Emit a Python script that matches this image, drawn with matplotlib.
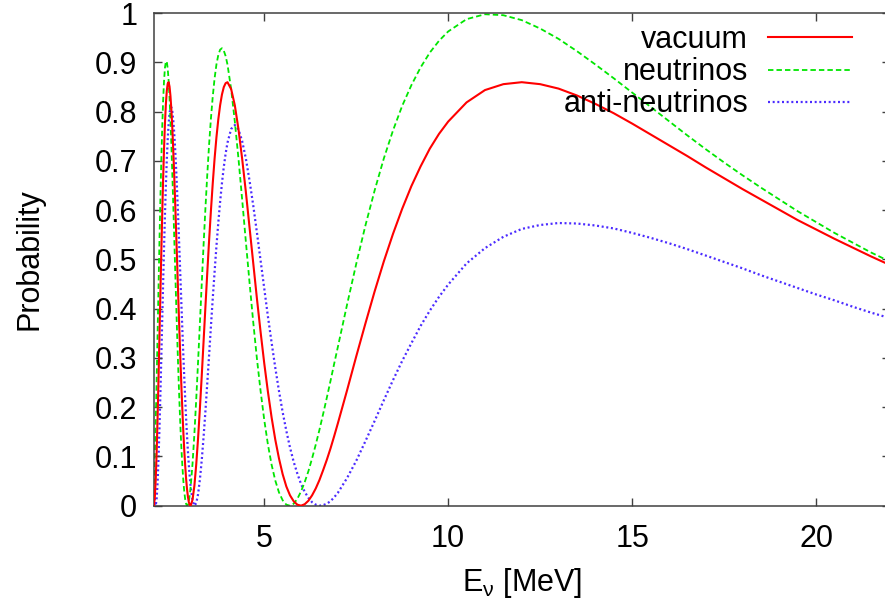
import numpy as np
import matplotlib
matplotlib.use('Agg')
import matplotlib.pyplot as plt
from matplotlib.ticker import FixedLocator, FuncFormatter

# Neutrino energy grid [MeV]
energy = [
    2.0, 2.025, 2.05, 2.075, 2.1, 2.125, 2.15, 2.175, 2.2, 2.225,
    2.25, 2.275, 2.3, 2.325, 2.35, 2.375, 2.4, 2.425, 2.45, 2.475,
    2.5, 2.525, 2.55, 2.575, 2.6, 2.625, 2.65, 2.675, 2.7, 2.725,
    2.75, 2.775, 2.8, 2.825, 2.85, 2.875, 2.9, 2.925, 2.95, 2.975, 3.0,
    3.05, 3.1, 3.15, 3.2, 3.25, 3.3, 3.35, 3.4, 3.45, 3.5,
    3.55, 3.6, 3.65, 3.7, 3.75, 3.8, 3.85, 3.9, 3.95, 4.0,
    4.1, 4.2, 4.3, 4.4, 4.5, 4.6, 4.7, 4.8, 4.9, 5.0,
    5.1, 5.2, 5.3, 5.4, 5.5, 5.6, 5.7, 5.8, 5.9, 6.0,
    6.1, 6.2, 6.3, 6.4, 6.5, 6.6, 6.7, 6.8, 6.9, 7.0,
    7.25, 7.5, 7.75, 8.0, 8.25, 8.5, 8.75, 9.0, 9.25, 9.5, 9.75, 10.0,
    10.5, 11.0, 11.5, 12.0, 12.5, 13.0, 13.5, 14.0, 14.5, 15.0, 15.5, 16.0,
    16.5, 17.0, 17.5, 18.0, 18.5, 19.0, 19.5, 20.0, 20.5, 21.0, 21.5, 22.0,
]

# Oscillation probabilities, in units of 1e-3
vacuum_permille = [
    1, 17, 54, 109, 178, 256, 341, 426, 510, 589, 661, 724, 775, 815, 842,
    857, 860, 851, 832, 804, 768, 724, 676, 623, 567, 510, 452, 395, 340, 287,
    237, 192, 150, 113, 82, 55, 34, 18, 7, 1, 0,
    12, 40, 83, 136, 197, 263, 333, 403, 472, 538, 599, 655, 705, 748, 784,
    813, 835, 850, 858, 860,
    846, 813, 764, 704, 637, 565, 493, 421, 353, 289, 231, 179, 134, 96, 64,
    39, 21, 9, 2, 0, 3, 10, 21, 35, 52, 72, 93, 116, 141, 167,
    234, 303, 370, 435, 496, 552, 603, 649, 689, 725, 755, 780,
    819, 844, 856, 860, 856, 847, 833, 816, 797, 776, 754, 732,
    710, 687, 665, 643, 622, 601, 580, 561, 542, 524, 506, 489,
]
neutrino_permille = [
    44, 100, 172, 256, 348, 441, 534, 620, 699, 766, 821, 862, 889, 902, 902,
    888, 863, 828, 783, 732, 675, 615, 552, 488, 425, 363, 304, 249, 199, 153,
    113, 79, 51, 29, 13, 4, 0, 2, 9, 22, 39,
    85, 145, 215, 291, 370, 450, 529, 603, 671, 733, 786, 831, 868, 896, 915,
    926, 929, 924, 913, 896,
    846, 780, 704, 621, 536, 453, 373, 299, 233, 174, 124, 83, 51, 27, 11,
    2, 0, 4, 14, 29, 48, 70, 96, 124, 154, 186, 219, 253, 288, 322,
    408, 491, 569, 640, 705, 762, 812, 854, 890, 920, 944, 963,
    988, 998, 996, 986, 969, 948, 923, 896, 868, 839, 810, 781,
    752, 724, 697, 671, 646, 622, 598, 576, 554, 534, 514, 496,
]
antineutrino_permille = [
    34, 6, 0, 15, 47, 95, 155, 223, 298, 374, 450, 523, 590, 650, 702,
    744, 775, 797, 808, 809, 801, 784, 759, 728, 691, 649, 603, 555, 505, 454,
    404, 354, 306, 261, 218, 178, 142, 110, 82, 58, 38,
    11, 0, 5, 23, 53, 92, 139, 191, 248, 305, 364, 421, 475, 527, 574,
    617, 655, 688, 715, 737,
    765, 773, 764, 740, 705, 660, 610, 555, 498, 441, 384, 331, 280, 233, 190,
    152, 118, 89, 65, 44, 28, 16, 7, 2, 0, 1, 4, 9, 17, 26,
    56, 91, 131, 172, 214, 255, 294, 330, 365, 396, 424, 449,
    492, 523, 546, 562, 570, 574, 573, 569, 563, 554, 544, 533,
    521, 508, 495, 482, 468, 455, 442, 429, 417, 404, 392, 381,
]

series_labels = ["vacuum", "neutrinos", "anti-neutrinos"]
x_ticks = [5, 10, 15, 20]
y_ticks = [0, 0.1, 0.2, 0.3, 0.4, 0.5, 0.6, 0.7, 0.8, 0.9, 1.0]

plt.rcParams['font.family'] = ['Liberation Sans', 'DejaVu Sans']
plt.rcParams['mathtext.fontset'] = 'custom'
plt.rcParams['mathtext.rm'] = 'Liberation Sans'
plt.rcParams['mathtext.it'] = 'Liberation Sans'
plt.rcParams['font.size'] = 22

fig = plt.figure(figsize=(8.85, 6.08), dpi=100)
ax = fig.add_axes([0.1739, 0.1683, 0.8313, 0.8099])

E = np.array(energy)
ax.plot(E, np.array(vacuum_permille) / 1000.0, color='#ff0000', lw=1.5,
        label=series_labels[0], zorder=3)
ax.plot(E, np.array(neutrino_permille) / 1000.0, color='#00e600', lw=1.3,
        dashes=(3.0, 1.7), label=series_labels[1], zorder=2)
ax.plot(E, np.array(antineutrino_permille) / 1000.0, color='#4b2bff', lw=1.6,
        dashes=(0.9, 1.2), dash_capstyle='butt', label=series_labels[2], zorder=1)

ax.set_xlim(2, 22)
ax.set_ylim(0, 1)
ax.xaxis.set_major_locator(FixedLocator(x_ticks))
ax.yaxis.set_major_locator(FixedLocator(y_ticks))
ax.yaxis.set_major_formatter(FuncFormatter(lambda v, p: '%g' % v))
ax.tick_params(which='major', direction='in', length=5.8, width=1.0,
               top=True, right=True, color='#404040')
ax.tick_params(axis='x', pad=13.5)
ax.tick_params(axis='y', pad=12)
for sp in ax.spines.values():
    sp.set_linewidth(1.1)
    sp.set_color('#404040')

ax.set_xlabel(r'E$_{\nu}$ [MeV]', labelpad=8)
ax.set_ylabel('Probability')
ax.yaxis.set_label_coords(-0.149, 0.5)

leg = ax.legend(loc='upper right', bbox_to_anchor=(0.9489, 0.976),
                frameon=False, markerfirst=False, handlelength=2.75,
                handletextpad=0.65, labelspacing=0.07, borderpad=0,
                borderaxespad=0)
# right-align the entry texts against the line samples
leg._legend_box._children[1]._children[0].align = 'right'

fig.savefig('out.png', dpi=100)
